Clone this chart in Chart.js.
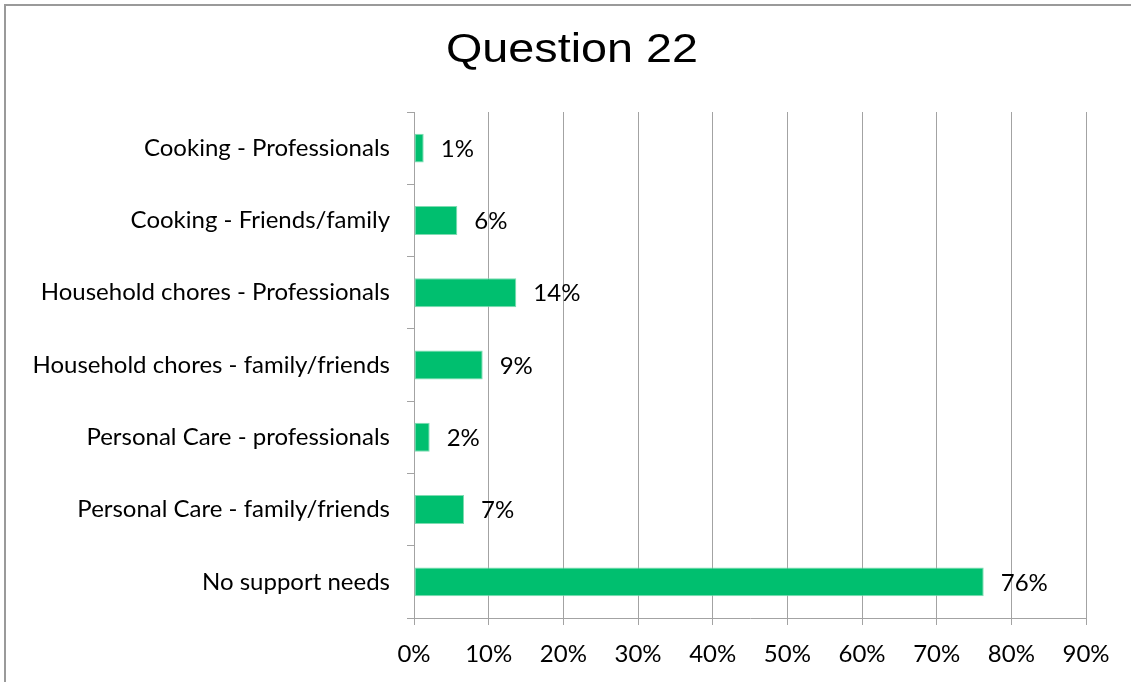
<!DOCTYPE html>
<html>
<head>
<meta charset="utf-8">
<script src="https://cdn.jsdelivr.net/npm/chart.js@4"></script>
<style>
  html, body { margin: 0; padding: 0; background: #fff; }
  #wrap { width: 1131px; height: 682px; }
</style>
</head>
<body>
<div id="wrap"><canvas id="q22"></canvas></div>
<script>
// Data
var categories = [
    "Cooking - Professionals",
    "Cooking - Friends/family",
    "Household chores - Professionals",
    "Household chores - family/friends",
    "Personal Care - professionals",
    "Personal Care - family/friends",
    "No support needs"
];
var percents = [1.3, 5.8, 13.7, 9.2, 2.1, 6.7, 76.3];
var xTicks = [0, 10, 20, 30, 40, 50, 60, 70, 80, 90];
var chartTitle = "Question 22";

var labelFont = { family: "Lato, 'Open Sans', sans-serif", size: 24 };
var gridGray = "#a3a3a3";

// Outer frame (only top/left edges fall inside the canvas) and the title
var framePlugin = {
    id: "frame",
    beforeDraw: function(chart) {
        var ctx = chart.ctx;
        ctx.save();
        ctx.strokeStyle = "#9a9a9a";
        ctx.lineWidth = 2;
        ctx.strokeRect(5, 5, chart.width + 20, chart.height + 20);

        // title is a little wide for its height, so stretch it sideways
        ctx.translate(572, 62);
        ctx.scale(1.14, 1);
        ctx.fillStyle = "#000";
        ctx.font = "41px 'Liberation Sans', Arial, sans-serif";
        ctx.textAlign = "center";
        ctx.textBaseline = "alphabetic";
        ctx.fillText(chartTitle, 0, 0);
        ctx.restore();
    }
};

// Value labels right of each bar
var valueLabels = {
    id: "valueLabels",
    afterDatasetsDraw: function(chart) {
        var ctx = chart.ctx;
        var meta = chart.getDatasetMeta(0);
        ctx.save();
        ctx.font = labelFont.size + "px " + labelFont.family;
        ctx.fillStyle = "#000";
        ctx.textAlign = "left";
        ctx.textBaseline = "middle";
        meta.data.forEach(function(bar, i) {
            ctx.fillText(Math.round(percents[i]) + "%", bar.x + 17, bar.y + 1);
        });
        ctx.restore();
    }
};

function createBarChart(canvasID) {
    const ctx = document.getElementById(canvasID).getContext('2d');

    const myChart = new Chart(ctx, {
        type: "bar",
        data: {
            labels: categories,
            datasets: [{
                data: percents,
                backgroundColor: "#00bf6f",
                borderColor: "#7fdcb2",
                borderWidth: 1,
                borderSkipped: false,
                categoryPercentage: 1,
                barPercentage: 0.4
            }]
        },
        options: {
            indexAxis: "y",
            responsive: true,
            maintainAspectRatio: false,
            animation: false,
            layout: { padding: { left: 0, right: 45, top: 112, bottom: 0 } },
            plugins: {
                legend: false,
                tooltip: { enabled: false },
                title: { display: false }
            },
            scales: {
                x: {
                    min: 0,
                    max: 90,
                    afterBuildTicks: function(scale) {
                        scale.ticks = xTicks.map(function(v) { return { value: v }; });
                    },
                    afterFit: function(scale) { scale.height = 64; },
                    grid: { color: gridGray, tickLength: 7, lineWidth: 1 },
                    border: { color: gridGray, width: 1 },
                    ticks: {
                        color: "#000",
                        font: labelFont,
                        padding: 15,
                        maxRotation: 0,
                        callback: function(v) { return v + "%"; }
                    }
                },
                y: {
                    afterFit: function(scale) { scale.width = 414; },
                    grid: { drawOnChartArea: false, offset: true, color: gridGray, tickLength: 7 },
                    border: { color: gridGray, width: 1 },
                    ticks: { color: "#000", font: labelFont, padding: 17 }
                }
            }
        },
        plugins: [framePlugin, valueLabels]
    });

    return myChart;
}

createBarChart("q22");
</script>
</body>
</html>
